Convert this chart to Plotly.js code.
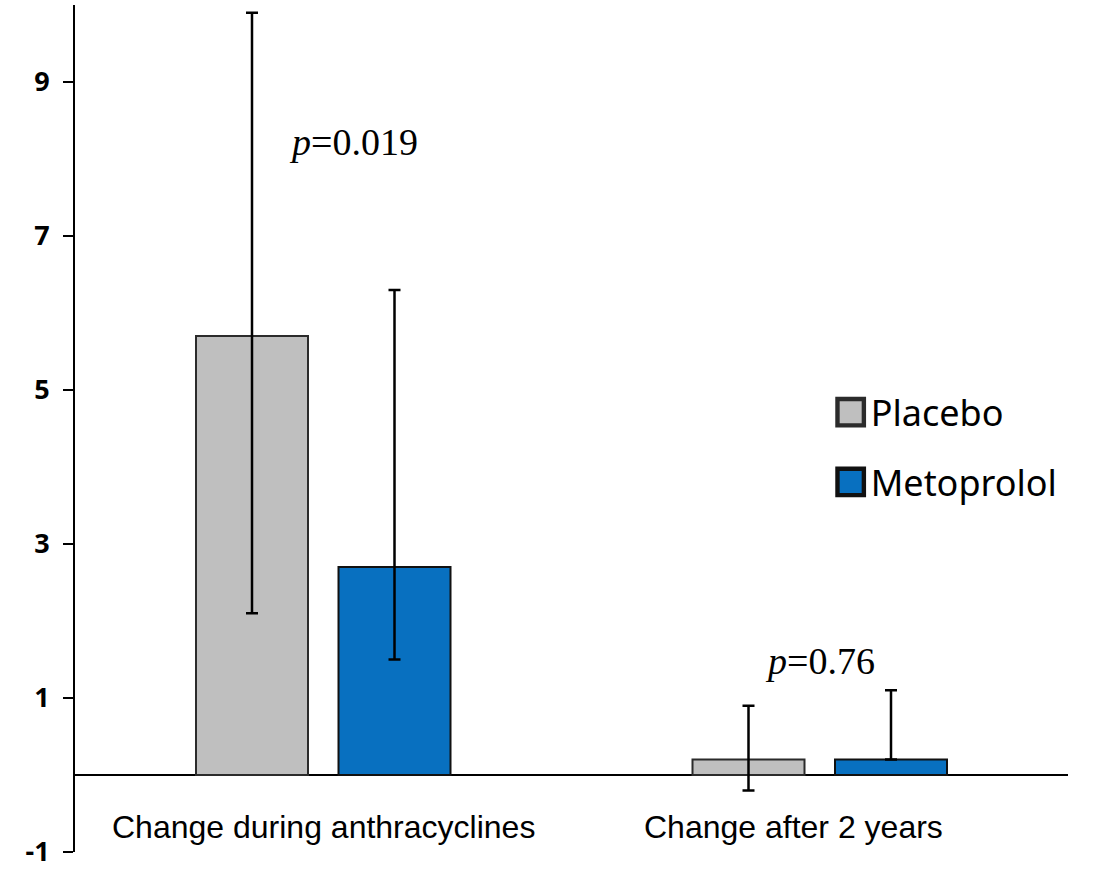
<!DOCTYPE html>
<html>
<head>
<meta charset="utf-8">
<script src="https://cdn.plot.ly/plotly-3.0.1.min.js"></script>
<style>html,body{margin:0;padding:0;background:#fff;}#chart{width:1093px;height:869px;}</style>
</head>
<body>
<div id="chart"></div>
<script>
const categories = ["Change during anthracyclines", "Change after 2 years"];
const seriesNames = ["Placebo", "Metoprolol"];
const placeboValues = [5.7, 0.2];
const placeboErrPlus = [4.2, 0.7];
const placeboErrMinus = [3.6, 0.4];
const metoprololValues = [2.7, 0.2];
const metoprololErrPlus = [3.6, 0.9];
const metoprololErrMinus = [1.2, 0.0];
const yTickVals = [-1, 1, 3, 5, 7, 9];
const pLabels = ["0.019", "0.76"];

const errStyle = {color: "#000", thickness: 2.5, width: 6};

const traces = [
  {
    type: "bar", name: seriesNames[0], x: categories, y: placeboValues,
    marker: {color: "#BFBFBF", line: {color: "#2b2b2b", width: 2}},
    error_y: Object.assign({type: "data", symmetric: false, array: placeboErrPlus, arrayminus: placeboErrMinus}, errStyle),
    legendgroup: "a"
  },
  {
    type: "bar", name: seriesNames[1], x: categories, y: metoprololValues,
    marker: {color: "#0870C0", line: {color: "#111", width: 2}},
    error_y: Object.assign({type: "data", symmetric: false, array: metoprololErrPlus, arrayminus: metoprololErrMinus}, errStyle),
    legendgroup: "b"
  }
];

const labelOffsets = [0, -0.053];
const annotations = [
  {x: 0.06, y: 8.22, xref: "x", yref: "y", text: "<i>p</i>=" + pLabels[0], showarrow: false,
   font: {family: "Liberation Serif, Times New Roman, serif", size: 38, color: "#000"}},
  {x: 1, y: 1.48, xref: "x", yref: "y", text: "<i>p</i>=" + pLabels[1], showarrow: false,
   font: {family: "Liberation Serif, Times New Roman, serif", size: 38, color: "#000"}}
];
categories.forEach((c, i) => {
  annotations.push({x: i + labelOffsets[i], y: -0.68, xref: "x", yref: "y", text: c, showarrow: false,
    font: {family: "Liberation Sans, Arial, sans-serif", size: 32, color: "#000"}});
});

const layout = {
  width: 1093, height: 869,
  margin: {l: 75, r: 25, t: 5, b: 17, autoexpand: false},
  paper_bgcolor: "#fff", plot_bgcolor: "#fff",
  barmode: "group", bargap: 0.426, bargroupgap: 0.214,
  showlegend: true,
  legend: {
    x: 0.761, y: 0.5546, xref: "paper", yref: "paper", xanchor: "left", yanchor: "top",
    font: {family: "Noto Sans, sans-serif", size: 36, color: "#000"},
    traceorder: "grouped", tracegroupgap: 20, bgcolor: "rgba(0,0,0,0)"
  },
  xaxis: {showticklabels: false, showline: false, zeroline: false, showgrid: false, ticks: "", fixedrange: true},
  yaxis: {
    range: [-1, 10], tickvals: yTickVals, ticktext: yTickVals.map(String),
    showline: true, linecolor: "#000", linewidth: 2,
    ticks: "outside", ticklen: 10, tickwidth: 2, tickcolor: "#000",
    ticklabeloverflow: "allow", ticklabelstandoff: 8,
    showgrid: false, zeroline: true, zerolinecolor: "#000", zerolinewidth: 1.5,
    tickfont: {family: "Noto Sans, sans-serif", size: 27, color: "#000", weight: "bold"}
  },
  annotations: annotations
};

Plotly.newPlot("chart", traces, layout, {displayModeBar: false, staticPlot: true}).then(() => {
  document.querySelectorAll(".legendpoints path").forEach(p => {
    const t = p.getAttribute("transform") || "";
    p.setAttribute("transform", t + " scale(2.2)");
  });
});
</script>
</body>
</html>
